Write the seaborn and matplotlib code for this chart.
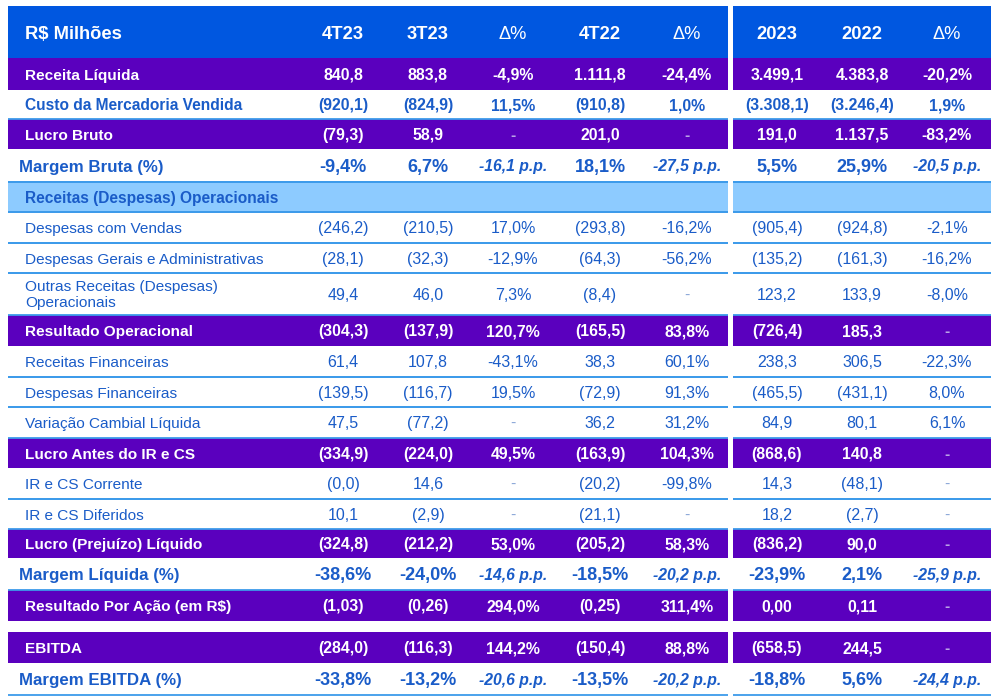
import seaborn as sns
import matplotlib.pyplot as plt

# dados da tabela (R$ milhões)
columns = ["4T23", "3T23", "Δ%", "4T22", "Δ%", "2023", "2022", "Δ%"]

labels = ["Receita Líquida", "Custo da Mercadoria Vendida", "Lucro Bruto", "Margem Bruta (%)",
          "Receitas (Despesas) Operacionais", "Despesas com Vendas",
          "Despesas Gerais e Administrativas", "Outras Receitas (Despesas)\nOperacionais",
          "Resultado Operacional", "Receitas Financeiras", "Despesas Financeiras",
          "Variação Cambial Líquida", "Lucro Antes do IR e CS", "IR e CS Corrente",
          "IR e CS Diferidos", "Lucro (Prejuízo) Líquido", "Margem Líquida (%)",
          "Resultado Por Ação (em R$)", "EBITDA", "Margem EBITDA (%)"]

v_4t23 = ["840,8", "(920,1)", "(79,3)", "-9,4%", "", "(246,2)", "(28,1)", "49,4", "(304,3)", "61,4",
          "(139,5)", "47,5", "(334,9)", "(0,0)", "10,1", "(324,8)", "-38,6%", "(1,03)", "(284,0)", "-33,8%"]
v_3t23 = ["883,8", "(824,9)", "58,9", "6,7%", "", "(210,5)", "(32,3)", "46,0", "(137,9)", "107,8",
          "(116,7)", "(77,2)", "(224,0)", "14,6", "(2,9)", "(212,2)", "-24,0%", "(0,26)", "(116,3)", "-13,2%"]
d_tri = ["-4,9%", "11,5%", "-", "-16,1 p.p.", "", "17,0%", "-12,9%", "7,3%", "120,7%", "-43,1%",
         "19,5%", "-", "49,5%", "-", "-", "53,0%", "-14,6 p.p.", "294,0%", "144,2%", "-20,6 p.p."]
v_4t22 = ["1.111,8", "(910,8)", "201,0", "18,1%", "", "(293,8)", "(64,3)", "(8,4)", "(165,5)", "38,3",
          "(72,9)", "36,2", "(163,9)", "(20,2)", "(21,1)", "(205,2)", "-18,5%", "(0,25)", "(150,4)", "-13,5%"]
d_anual_tri = ["-24,4%", "1,0%", "-", "-27,5 p.p.", "", "-16,2%", "-56,2%", "-", "83,8%", "60,1%",
               "91,3%", "31,2%", "104,3%", "-99,8%", "-", "58,3%", "-20,2 p.p.", "311,4%", "88,8%", "-20,2 p.p."]
v_2023 = ["3.499,1", "(3.308,1)", "191,0", "5,5%", "", "(905,4)", "(135,2)", "123,2", "(726,4)", "238,3",
          "(465,5)", "84,9", "(868,6)", "14,3", "18,2", "(836,2)", "-23,9%", "0,00", "(658,5)", "-18,8%"]
v_2022 = ["4.383,8", "(3.246,4)", "1.137,5", "25,9%", "", "(924,8)", "(161,3)", "133,9", "185,3", "306,5",
          "(431,1)", "80,1", "140,8", "(48,1)", "(2,7)", "90,0", "2,1%", "0,11", "244,5", "5,6%"]
d_ano = ["-20,2%", "1,9%", "-83,2%", "-20,5 p.p.", "", "-2,1%", "-16,2%", "-8,0%", "-", "-22,3%",
         "8,0%", "6,1%", "-", "-", "-", "-", "-25,9 p.p.", "-", "-", "-24,4 p.p."]

kinds = ["total", "sub", "total", "margin", "section", "normal", "normal", "normal", "total", "normal",
         "normal", "normal", "total", "normal", "normal", "total", "margin", "total", "total", "margin"]

# layout (pixels)
heights = [32, 29, 30, 33, 30, 31, 30, 42, 31, 31, 30, 31, 30, 31, 30, 29, 32, 31, 31, 32]
gap_before = {18: 11}
col_x = [343, 428, 513, 600, 687, 777, 862, 947]
segments = [(8, 728), (733, 991)]

BLUE_HDR = "#0057E0"
PURPLE = "#5A00BE"
LIGHT = "#8DCBFF"
TXT = "#1A5CC8"
LINE = "#3D9BEA"

sns.set_theme(style="white")
plt.rcParams['font.family'] = ['Liberation Sans', 'DejaVu Sans']

fig = plt.figure(figsize=(9.94, 6.99), dpi=100)
ax = fig.add_axes([0, 0, 1, 1])
ax.set_xlim(0, 994)
ax.set_ylim(699, 0)
ax.axis('off')


def put(x, yc, s, fs, **kw):
    # alinha pela linha de base (metade da altura das maiúsculas)
    ax.text(x, yc + 0.358 * fs * 100 / 72, s, fontsize=fs, va="baseline", **kw)


# cabeçalho
top, hh = 6, 52
for x0, x1 in segments:
    ax.barh(top + hh / 2, x1 - x0, height=hh, left=x0, color=BLUE_HDR, linewidth=0)
put(25, top + hh / 2, "R$ Milhões", 13.2, color="white", fontweight="bold")
for x, c in zip(col_x, columns):
    bold = "bold" if c != "Δ%" else "normal"
    put(x, top + hh / 2, c, 13.2, color="white", fontweight=bold, ha="center")

cols = [v_4t23, v_3t23, d_tri, v_4t22, d_anual_tri, v_2023, v_2022, d_ano]
y = top + hh
for i, (lab, kind, h) in enumerate(zip(labels, kinds, heights)):
    y += gap_before.get(i, 0)
    yc = y + h / 2
    if kind in ("total", "section"):
        color = PURPLE if kind == "total" else LIGHT
        for x0, x1 in segments:
            ax.barh(yc, x1 - x0, height=h, left=x0, color=color, linewidth=0)
    # linhas de separação
    if kind != "total":
        for x0, x1 in segments:
            ax.plot([x0, x1], [y + h, y + h], color=LINE, lw=1.3, solid_capstyle="butt")
            if i not in gap_before and i > 0 and kinds[i - 1] != "total":
                ax.plot([x0, x1], [y, y], color=LINE, lw=1.3, solid_capstyle="butt")

    if kind == "total":
        tc, fs, vfs, fw, lx = "white", 11.1, 11.4, "bold", 25
    elif kind in ("sub", "section"):
        tc, fs, vfs, fw, lx = TXT, 11.2, 11.4, "bold", 25
    elif kind == "margin":
        tc, fs, vfs, fw, lx = TXT, 12.2, 13, "bold", 19
    else:
        tc, fs, vfs, fw, lx = TXT, 11.1, 11.5, "normal", 25
    if "\n" in lab:
        ax.text(lx, yc + 1, lab, color=tc, fontsize=fs, fontweight=fw, va="center", linespacing=1.25)
    else:
        put(lx, yc, lab, fs, color=tc, fontweight=fw)

    for x, col in zip(col_x, cols):
        val = col[i]
        if not val:
            continue
        vc = tc
        if val == "-":
            vc = "#B9A3E6" if kind == "total" else "#8AA6D8"
        style = "italic" if "p.p." in val else "normal"
        put(x, yc, val, 11.3 if style == "italic" else vfs, color=vc,
            fontweight=fw, fontstyle=style, ha="center")
    y += h

fig.savefig("out.png", dpi=100, facecolor="white")
